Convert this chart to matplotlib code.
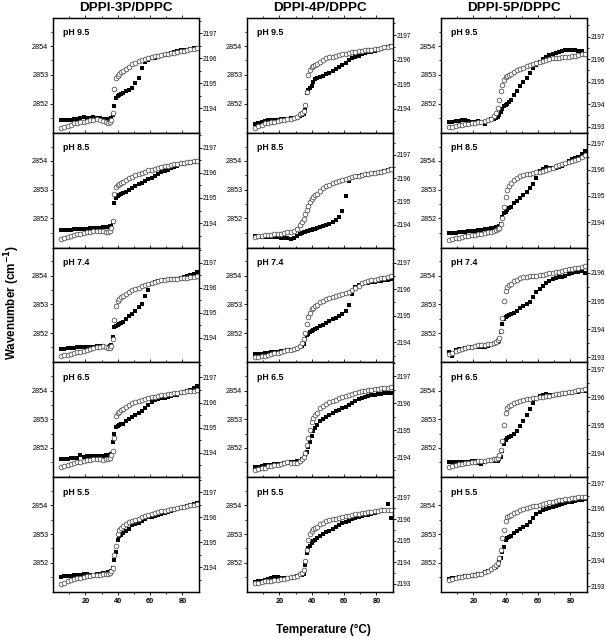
import matplotlib
matplotlib.use("Agg")
import matplotlib.pyplot as plt
from matplotlib.ticker import FixedLocator, MultipleLocator, NullFormatter

plt.rcParams['font.family'] = ['Liberation Sans', 'DejaVu Sans']

# temperature grid (deg C), shared by every panel
temp = [5, 7, 9, 11, 13, 15, 17, 19, 21, 23, 25, 27, 29, 31,
        33, 34, 35, 36, 37, 38, 39, 40, 41, 42, 43,
        45, 47, 49, 51, 53, 55, 57, 59, 61, 63, 65, 67, 69, 71, 73, 75, 77, 79, 81, 83, 85, 87, 89]

systems = ["DPPI-3P/DPPC", "DPPI-4P/DPPC", "DPPI-5P/DPPC"]
ph_labels = ["pH 9.5", "pH 8.5", "pH 7.4", "pH 6.5", "pH 5.5"]

# ---- DPPI-3P ----  sq = CH2 (left axis), ci = right axis
sq_3p_95 = [2851.42, 2851.43, 2851.44, 2851.44, 2851.45, 2851.47, 2851.5, 2851.52, 2851.5, 2851.5, 2851.52, 2851.5, 2851.48, 2851.47,
            2851.45, 2851.45, 2851.47, 2851.5, 2851.6, 2851.9, 2852.2, 2852.25, 2852.3, 2852.33, 2852.37,
            2852.42, 2852.48, 2852.55, 2852.7, 2852.88, 2853.25, 2853.45, 2853.53, 2853.57, 2853.6, 2853.63, 2853.66, 2853.7, 2853.73, 2853.77, 2853.8, 2853.82, 2853.85, 2853.87, 2853.88, 2853.9, 2853.92, 2853.95]
ci_3p_95 = [2193.2, 2193.25, 2193.3, 2193.35, 2193.4, 2193.42, 2193.45, 2193.47, 2193.5, 2193.52, 2193.55, 2193.57, 2193.55, 2193.5,
            2193.45, 2193.43, 2193.47, 2193.55, 2193.8, 2194.75, 2195.2, 2195.3, 2195.38, 2195.43, 2195.48,
            2195.57, 2195.65, 2195.75, 2195.82, 2195.88, 2195.93, 2195.98, 2196.02, 2196.05, 2196.08, 2196.1, 2196.13, 2196.15, 2196.18, 2196.2, 2196.22, 2196.25, 2196.27, 2196.3, 2196.32, 2196.35, 2196.37, 2196.4]
sq_3p_85 = [2851.6, 2851.6, 2851.6, 2851.61, 2851.62, 2851.62, 2851.63, 2851.63, 2851.64, 2851.65, 2851.66, 2851.67, 2851.68, 2851.69,
            2851.7, 2851.71, 2851.72, 2851.75, 2851.86, 2852.54, 2852.7, 2852.78, 2852.82, 2852.85, 2852.88,
            2852.92, 2852.98, 2853.05, 2853.12, 2853.18, 2853.24, 2853.3, 2853.36, 2853.42, 2853.48, 2853.54, 2853.6, 2853.65, 2853.7, 2853.74, 2853.78, 2853.83, 2853.88, 2853.91, 2853.93, 2853.94, 2853.95, 2853.97]
ci_3p_85 = [2193.38, 2193.42, 2193.46, 2193.5, 2193.53, 2193.56, 2193.58, 2193.61, 2193.63, 2193.66, 2193.68, 2193.7, 2193.7, 2193.67,
            2193.65, 2193.66, 2193.7, 2193.82, 2194.1, 2195.15, 2195.42, 2195.5, 2195.56, 2195.6, 2195.64,
            2195.72, 2195.78, 2195.85, 2195.9, 2195.96, 2196.01, 2196.05, 2196.1, 2196.13, 2196.17, 2196.2, 2196.23, 2196.26, 2196.29, 2196.31, 2196.34, 2196.36, 2196.38, 2196.4, 2196.43, 2196.45, 2196.47, 2196.49]
sq_3p_74 = [2851.45, 2851.46, 2851.47, 2851.48, 2851.49, 2851.5, 2851.5, 2851.51, 2851.52, 2851.52, 2851.53, 2851.54, 2851.54, 2851.54,
            2851.53, 2851.53, 2851.55, 2851.6, 2851.86, 2852.2, 2852.25, 2852.29, 2852.32, 2852.36, 2852.4,
            2852.5, 2852.58, 2852.68, 2852.78, 2852.9, 2853.03, 2853.3, 2853.5, 2853.7, 2853.78, 2853.81, 2853.83, 2853.85, 2853.86, 2853.88, 2853.89, 2853.9, 2853.92, 2853.95, 2853.98, 2854.02, 2854.07, 2854.14]
ci_3p_74 = [2193.26, 2193.3, 2193.33, 2193.36, 2193.39, 2193.42, 2193.45, 2193.48, 2193.52, 2193.55, 2193.59, 2193.62, 2193.65, 2193.68,
            2193.63, 2193.58, 2193.6, 2193.68, 2193.95, 2194.7, 2195.26, 2195.46, 2195.55, 2195.62, 2195.67,
            2195.76, 2195.83, 2195.9, 2195.95, 2196.0, 2196.05, 2196.1, 2196.16, 2196.2, 2196.23, 2196.26, 2196.29, 2196.31, 2196.33, 2196.34, 2196.35, 2196.36, 2196.37, 2196.38, 2196.4, 2196.42, 2196.44, 2196.45]
sq_3p_65 = [2851.62, 2851.62, 2851.63, 2851.64, 2851.65, 2851.66, 2851.75, 2851.7, 2851.71, 2851.71, 2851.72, 2851.72, 2851.72, 2851.73,
            2851.74, 2851.75, 2851.76, 2851.8, 2852.2, 2852.5, 2852.72, 2852.77, 2852.8, 2852.82, 2852.85,
            2852.94, 2853.0, 2853.07, 2853.14, 2853.21, 2853.29, 2853.38, 2853.5, 2853.6, 2853.68, 2853.71, 2853.73, 2853.75, 2853.77, 2853.8, 2853.83, 2853.86, 2853.9, 2853.94, 2853.98, 2854.03, 2854.08, 2854.15]
ci_3p_65 = [2193.41, 2193.45, 2193.49, 2193.53, 2193.57, 2193.61, 2193.64, 2193.67, 2193.7, 2193.72, 2193.74, 2193.75, 2193.74, 2193.72,
            2193.73, 2193.76, 2193.8, 2193.9, 2194.07, 2194.6, 2195.45, 2195.59, 2195.64, 2195.69, 2195.73,
            2195.83, 2195.9, 2195.97, 2196.02, 2196.07, 2196.11, 2196.14, 2196.17, 2196.2, 2196.23, 2196.26, 2196.29, 2196.31, 2196.33, 2196.35, 2196.37, 2196.39, 2196.4, 2196.42, 2196.44, 2196.45, 2196.47, 2196.48]
sq_3p_55 = [2851.51, 2851.53, 2851.55, 2851.55, 2851.56, 2851.56, 2851.58, 2851.6, 2851.6, 2851.58, 2851.55, 2851.6, 2851.62, 2851.63,
            2851.65, 2851.66, 2851.68, 2851.72, 2851.8, 2852.09, 2852.39, 2852.8, 2852.92, 2852.98, 2853.04,
            2853.1, 2853.18, 2853.3, 2853.35, 2853.4, 2853.45, 2853.52, 2853.58, 2853.61, 2853.64, 2853.67, 2853.7, 2853.73, 2853.76, 2853.8, 2853.83, 2853.86, 2853.9, 2853.93, 2853.96, 2854.0, 2854.04, 2854.07]
ci_3p_55 = [2193.34, 2193.39, 2193.44, 2193.49, 2193.52, 2193.56, 2193.59, 2193.62, 2193.64, 2193.66, 2193.68, 2193.69, 2193.7, 2193.72,
            2193.74, 2193.75, 2193.78, 2193.85, 2193.98, 2194.49, 2194.85, 2195.32, 2195.48, 2195.58, 2195.66,
            2195.75, 2195.8, 2195.87, 2195.91, 2195.95, 2196.0, 2196.05, 2196.1, 2196.14, 2196.17, 2196.21, 2196.24, 2196.27, 2196.3, 2196.32, 2196.35, 2196.38, 2196.41, 2196.43, 2196.46, 2196.49, 2196.51, 2196.53]

# ---- DPPI-4P ----
sq_4p_95 = [2851.27, 2851.32, 2851.36, 2851.39, 2851.41, 2851.42, 2851.43, 2851.44, 2851.45, 2851.46, 2851.47, 2851.48, 2851.49, 2851.51,
            2851.57, 2851.6, 2851.65, 2851.77, 2852.38, 2852.47, 2852.55, 2852.62, 2852.75, 2852.85, 2852.88,
            2852.93, 2852.97, 2853.03, 2853.07, 2853.13, 2853.2, 2853.26, 2853.33, 2853.4, 2853.5, 2853.58, 2853.63, 2853.67, 2853.71, 2853.75, 2853.78, 2853.81, 2853.84, 2853.87, 2853.9, 2853.93, 2853.96, 2854.0]
ci_4p_95 = [2193.22, 2193.29, 2193.35, 2193.4, 2193.43, 2193.46, 2193.48, 2193.5, 2193.53, 2193.55, 2193.57, 2193.59, 2193.62, 2193.66,
            2193.77, 2193.83, 2193.9, 2194.14, 2194.7, 2195.39, 2195.56, 2195.69, 2195.74, 2195.78, 2195.82,
            2195.9, 2195.97, 2196.05, 2196.09, 2196.13, 2196.16, 2196.2, 2196.23, 2196.25, 2196.28, 2196.3, 2196.33, 2196.35, 2196.37, 2196.38, 2196.4, 2196.41, 2196.42, 2196.44, 2196.47, 2196.5, 2196.53, 2196.56]
sq_4p_85 = [2851.37, 2851.37, 2851.36, 2851.36, 2851.35, 2851.35, 2851.34, 2851.34, 2851.33, 2851.32, 2851.3, 2851.28, 2851.3, 2851.4,
            2851.47, 2851.49, 2851.51, 2851.53, 2851.55, 2851.56, 2851.58, 2851.6, 2851.62, 2851.64, 2851.65,
            2851.69, 2851.72, 2851.76, 2851.8, 2851.86, 2851.95, 2852.06, 2852.25, 2852.79, 2853.31, 2853.4, 2853.45, 2853.48, 2853.5, 2853.52, 2853.54, 2853.55, 2853.57, 2853.59, 2853.62, 2853.65, 2853.68, 2853.72]
ci_4p_85 = [2193.49, 2193.51, 2193.53, 2193.55, 2193.56, 2193.57, 2193.59, 2193.6, 2193.62, 2193.65, 2193.68, 2193.71, 2193.75, 2193.8,
            2193.98, 2194.1, 2194.26, 2194.45, 2194.62, 2194.8, 2194.98, 2195.1, 2195.2, 2195.27, 2195.34,
            2195.45, 2195.58, 2195.66, 2195.72, 2195.79, 2195.85, 2195.89, 2195.93, 2195.97, 2196.01, 2196.05, 2196.08, 2196.11, 2196.14, 2196.17, 2196.19, 2196.21, 2196.23, 2196.25, 2196.28, 2196.31, 2196.34, 2196.38]
sq_4p_74 = [2851.27, 2851.28, 2851.29, 2851.3, 2851.32, 2851.33, 2851.34, 2851.35, 2851.37, 2851.38, 2851.4, 2851.41, 2851.42, 2851.45,
            2851.51, 2851.56, 2851.63, 2851.8, 2851.92, 2851.98, 2852.04, 2852.09, 2852.12, 2852.15, 2852.19,
            2852.25, 2852.3, 2852.36, 2852.42, 2852.48, 2852.54, 2852.61, 2852.68, 2852.77, 2852.98, 2853.35, 2853.6, 2853.69, 2853.72, 2853.74, 2853.76, 2853.77, 2853.78, 2853.8, 2853.82, 2853.84, 2853.86, 2853.88]
ci_4p_74 = [2193.44, 2193.46, 2193.48, 2193.5, 2193.54, 2193.57, 2193.6, 2193.62, 2193.64, 2193.67, 2193.7, 2193.73, 2193.76, 2193.8,
            2193.88, 2193.98, 2194.13, 2194.37, 2194.68, 2194.97, 2195.12, 2195.24, 2195.3, 2195.36, 2195.41,
            2195.51, 2195.56, 2195.62, 2195.66, 2195.7, 2195.74, 2195.78, 2195.82, 2195.86, 2195.9, 2195.95, 2196.04, 2196.13, 2196.22, 2196.28, 2196.31, 2196.33, 2196.35, 2196.37, 2196.4, 2196.43, 2196.47, 2196.5]
sq_4p_65 = [2851.33, 2851.35, 2851.38, 2851.4, 2851.41, 2851.42, 2851.43, 2851.44, 2851.45, 2851.47, 2851.49, 2851.5, 2851.52, 2851.54,
            2851.56, 2851.6, 2851.66, 2851.74, 2851.86, 2852.02, 2852.22, 2852.43, 2852.58, 2852.71, 2852.8,
            2852.94, 2853.02, 2853.08, 2853.14, 2853.21, 2853.29, 2853.33, 2853.38, 2853.43, 2853.5, 2853.57, 2853.63, 2853.7, 2853.73, 2853.77, 2853.8, 2853.83, 2853.85, 2853.87, 2853.88, 2853.9, 2853.91, 2853.92]
ci_4p_65 = [2193.53, 2193.56, 2193.58, 2193.61, 2193.65, 2193.68, 2193.7, 2193.72, 2193.74, 2193.77, 2193.8, 2193.78, 2193.76, 2193.76,
            2193.84, 2193.92, 2194.0, 2194.15, 2194.46, 2194.71, 2195.02, 2195.29, 2195.44, 2195.57, 2195.65,
            2195.82, 2195.9, 2195.98, 2196.03, 2196.08, 2196.13, 2196.18, 2196.24, 2196.28, 2196.32, 2196.36, 2196.39, 2196.42, 2196.45, 2196.47, 2196.49, 2196.51, 2196.53, 2196.54, 2196.56, 2196.57, 2196.58, 2196.59]
sq_4p_55 = [2851.33, 2851.35, 2851.38, 2851.41, 2851.44, 2851.47, 2851.5, 2851.49, 2851.47, 2851.46, 2851.45, 2851.48, 2851.5, 2851.53,
            2851.56, 2851.58, 2851.62, 2851.92, 2852.33, 2852.51, 2852.6, 2852.68, 2852.74, 2852.8, 2852.85,
            2852.92, 2852.99, 2853.06, 2853.12, 2853.19, 2853.25, 2853.31, 2853.38, 2853.43, 2853.47, 2853.51, 2853.55, 2853.58, 2853.62, 2853.65, 2853.68, 2853.7, 2853.73, 2853.76, 2853.8, 2853.82, 2854.05, 2853.55]
ci_4p_55 = [2193.03, 2193.06, 2193.09, 2193.12, 2193.14, 2193.16, 2193.18, 2193.2, 2193.22, 2193.24, 2193.27, 2193.3, 2193.32, 2193.37,
            2193.46, 2193.52, 2193.65, 2194.04, 2194.59, 2195.05, 2195.29, 2195.44, 2195.53, 2195.6, 2195.65,
            2195.75, 2195.82, 2195.89, 2195.94, 2195.98, 2196.02, 2196.06, 2196.1, 2196.13, 2196.16, 2196.19, 2196.22, 2196.24, 2196.27, 2196.29, 2196.32, 2196.34, 2196.37, 2196.38, 2196.4, 2196.41, 2196.42, 2196.42]

# ---- DPPI-5P ----
sq_5p_95 = [2851.36, 2851.37, 2851.38, 2851.4, 2851.42, 2851.42, 2851.38, 2851.35, 2851.36, 2851.38, 2851.37, 2851.3, 2851.4, 2851.45,
            2851.45, 2851.48, 2851.52, 2851.6, 2851.7, 2851.8, 2851.92, 2851.96, 2852.0, 2852.05, 2852.12,
            2852.29, 2852.45, 2852.6, 2852.74, 2852.88, 2853.08, 2853.23, 2853.35, 2853.45, 2853.55, 2853.63, 2853.68, 2853.72, 2853.76, 2853.8, 2853.83, 2853.86, 2853.88, 2853.85, 2853.87, 2853.84, 2853.82, 2853.74]
ci_5p_95 = [2192.97, 2193.0, 2193.02, 2193.05, 2193.08, 2193.1, 2193.12, 2193.14, 2193.16, 2193.18, 2193.2, 2193.23, 2193.27, 2193.33,
            2193.45, 2193.59, 2193.81, 2194.19, 2194.6, 2194.85, 2195.07, 2195.19, 2195.25, 2195.3, 2195.35,
            2195.44, 2195.5, 2195.57, 2195.62, 2195.68, 2195.74, 2195.78, 2195.82, 2195.86, 2195.9, 2195.96, 2196.0, 2196.03, 2196.05, 2196.07, 2196.09, 2196.1, 2196.11, 2196.13, 2196.16, 2196.19, 2196.21, 2196.23]
sq_5p_85 = [2851.48, 2851.49, 2851.5, 2851.51, 2851.53, 2851.54, 2851.55, 2851.56, 2851.57, 2851.59, 2851.6, 2851.62, 2851.64, 2851.66,
            2851.68, 2851.69, 2851.71, 2851.74, 2851.79, 2852.06, 2852.17, 2852.23, 2852.29, 2852.35, 2852.4,
            2852.52, 2852.61, 2852.71, 2852.81, 2852.93, 2853.05, 2853.2, 2853.42, 2853.65, 2853.73, 2853.78, 2853.77, 2853.75, 2853.75, 2853.78, 2853.82, 2853.9, 2854.0, 2854.05, 2854.09, 2854.15, 2854.24, 2854.35]
ci_5p_85 = [2193.33, 2193.35, 2193.37, 2193.4, 2193.42, 2193.45, 2193.47, 2193.5, 2193.52, 2193.54, 2193.56, 2193.58, 2193.6, 2193.63,
            2193.66, 2193.68, 2193.72, 2193.78, 2193.93, 2194.15, 2194.57, 2194.96, 2195.21, 2195.4, 2195.49,
            2195.61, 2195.69, 2195.76, 2195.8, 2195.83, 2195.85, 2195.87, 2195.9, 2195.92, 2195.95, 2195.98, 2196.02, 2196.07, 2196.13, 2196.18, 2196.23, 2196.26, 2196.29, 2196.33, 2196.38, 2196.43, 2196.49, 2196.55]
sq_5p_74 = [2851.33, 2851.2, 2851.4, 2851.43, 2851.45, 2851.47, 2851.49, 2851.5, 2851.51, 2851.52, 2851.5, 2851.53, 2851.56, 2851.58,
            2851.63, 2851.65, 2851.68, 2851.74, 2852.04, 2852.33, 2852.5, 2852.56, 2852.59, 2852.62, 2852.65,
            2852.7, 2852.78, 2852.87, 2852.95, 2853.02, 2853.09, 2853.26, 2853.42, 2853.55, 2853.65, 2853.73, 2853.8, 2853.87, 2853.91, 2853.94, 2853.96, 2854.0, 2854.05, 2854.09, 2854.12, 2854.14, 2854.17, 2854.1]
ci_5p_74 = [2193.12, 2193.17, 2193.22, 2193.26, 2193.3, 2193.33, 2193.36, 2193.38, 2193.41, 2193.43, 2193.44, 2193.45, 2193.46, 2193.48,
            2193.51, 2193.55, 2193.6, 2193.69, 2193.93, 2194.4, 2195.01, 2195.37, 2195.49, 2195.56, 2195.61,
            2195.7, 2195.76, 2195.81, 2195.85, 2195.87, 2195.88, 2195.89, 2195.9, 2195.91, 2195.93, 2195.96, 2195.98, 2196.0, 2196.03, 2196.05, 2196.07, 2196.1, 2196.13, 2196.15, 2196.17, 2196.19, 2196.21, 2196.23]
sq_5p_65 = [2851.5, 2851.5, 2851.5, 2851.51, 2851.51, 2851.52, 2851.52, 2851.53, 2851.53, 2851.48, 2851.44, 2851.52, 2851.53, 2851.54,
            2851.55, 2851.55, 2851.56, 2851.6, 2851.67, 2851.91, 2852.14, 2852.28, 2852.33, 2852.37, 2852.41,
            2852.49, 2852.6, 2852.75, 2852.93, 2853.13, 2853.36, 2853.56, 2853.72, 2853.8, 2853.85, 2853.88, 2853.86, 2853.84, 2853.84, 2853.86, 2853.88, 2853.89, 2853.9, 2853.92, 2853.94, 2853.95, 2853.97, 2853.98]
ci_5p_65 = [2193.52, 2193.55, 2193.58, 2193.61, 2193.63, 2193.65, 2193.67, 2193.69, 2193.7, 2193.72, 2193.73, 2193.74, 2193.75, 2193.77,
            2193.79, 2193.8, 2193.82, 2193.94, 2194.12, 2194.44, 2195.02, 2195.44, 2195.62, 2195.7, 2195.74,
            2195.8, 2195.85, 2195.88, 2195.91, 2195.94, 2195.96, 2195.97, 2195.98, 2196.0, 2196.02, 2196.04, 2196.06, 2196.09, 2196.11, 2196.13, 2196.15, 2196.17, 2196.19, 2196.21, 2196.24, 2196.26, 2196.28, 2196.3]
sq_5p_55 = [2851.45, 2851.46, 2851.48, 2851.5, 2851.52, 2851.53, 2851.54, 2851.55, 2851.57, 2851.59, 2851.62, 2851.66, 2851.7, 2851.74,
            2851.8, 2851.85, 2851.92, 2852.02, 2852.15, 2852.39, 2852.56, 2852.78, 2852.86, 2852.9, 2852.92,
            2853.04, 2853.1, 2853.18, 2853.24, 2853.3, 2853.41, 2853.57, 2853.7, 2853.78, 2853.82, 2853.86, 2853.9, 2853.94, 2853.96, 2854.0, 2854.04, 2854.07, 2854.1, 2854.13, 2854.15, 2854.17, 2854.19, 2854.21]
ci_5p_55 = [2193.24, 2193.28, 2193.32, 2193.35, 2193.37, 2193.39, 2193.41, 2193.42, 2193.44, 2193.45, 2193.47, 2193.53, 2193.6, 2193.66,
            2193.76, 2193.82, 2193.89, 2194.08, 2194.41, 2194.87, 2195.19, 2195.52, 2195.69, 2195.74, 2195.78,
            2195.84, 2195.89, 2195.95, 2195.99, 2196.04, 2196.08, 2196.11, 2196.13, 2196.15, 2196.18, 2196.21, 2196.25, 2196.28, 2196.31, 2196.33, 2196.35, 2196.37, 2196.39, 2196.41, 2196.43, 2196.45, 2196.46, 2196.47]

squares = [[sq_3p_95, sq_3p_85, sq_3p_74, sq_3p_65, sq_3p_55],
           [sq_4p_95, sq_4p_85, sq_4p_74, sq_4p_65, sq_4p_55],
           [sq_5p_95, sq_5p_85, sq_5p_74, sq_5p_65, sq_5p_55]]
circles = [[ci_3p_95, ci_3p_85, ci_3p_74, ci_3p_65, ci_3p_55],
           [ci_4p_95, ci_4p_85, ci_4p_74, ci_4p_65, ci_4p_55],
           [ci_5p_95, ci_5p_85, ci_5p_74, ci_5p_65, ci_5p_55]]

# right axis range per panel (column, row)
right_lims = [[(2193.02, 2197.6)] * 5,
              [(2193.02, 2197.7), (2193.02, 2197.95), (2193.25, 2197.56), (2193.25, 2197.52), (2192.63, 2197.93)],
              [(2192.72, 2197.83), (2193.02, 2197.42), (2192.82, 2196.9), (2193.15, 2197.25), (2192.77, 2197.23)]]

W, H = 606, 638
fig = plt.figure(figsize=(W / 100, H / 100), dpi=100)

col_left = [53, 247, 441]
pw = 145.5
top0 = 18
ph = 114.8

for c in range(3):
    for r in range(5):
        y_top = top0 + r * ph
        ax = fig.add_axes([col_left[c] / W, 1 - (y_top + ph) / H, pw / W, ph / H])
        ax.plot(temp, squares[c][r], ls='none', marker='s', ms=3.1, color='black', mew=0)
        ax.set_xlim(0, 90)
        ax.set_ylim(2850.98, 2854.98)
        ax.yaxis.set_major_locator(FixedLocator([2852, 2853, 2854]))
        ax.yaxis.set_minor_locator(FixedLocator([2851.5, 2852.5, 2853.5, 2854.5]))
        ax.xaxis.set_major_locator(FixedLocator([20, 40, 60, 80]))
        ax.xaxis.set_minor_locator(FixedLocator([10, 30, 50, 70]))
        ax.tick_params(axis='both', which='both', direction='out', width=0.6, top=True)
        ax.tick_params(which='major', length=2.5)
        ax.tick_params(which='minor', length=1.5)
        ax.tick_params(axis='y', labelsize=5.2, pad=0.8)
        ax.tick_params(axis='x', labelsize=5.3, pad=1.5)
        for lab in ax.get_xticklabels():
            lab.set_fontweight('bold')
        if r < 4:
            ax.xaxis.set_major_formatter(NullFormatter())

        ax2 = ax.twinx()
        ax2.plot(temp, circles[c][r], ls='none', marker='o', ms=3.4, mfc='white',
                 mec='#3a3a3a', mew=0.5)
        ax2.set_ylim(*right_lims[c][r])
        ax2.yaxis.set_major_locator(MultipleLocator(1))
        ax2.yaxis.set_minor_locator(MultipleLocator(0.5))
        ax2.tick_params(axis='y', which='both', direction='out', width=0.6, labelsize=4.7, pad=0.6)
        ax2.tick_params(which='major', length=2.2)
        ax2.tick_params(which='minor', length=1.4)
        for a in (ax, ax2):
            for s in a.spines.values():
                s.set_linewidth(0.9)

        ax.text(0.068, 0.87, ph_labels[r], transform=ax.transAxes, fontsize=6.3,
                fontweight='bold', va='center', ha='left')

    fig.text((col_left[c] + pw / 2) / W, 1 - 8 / H, systems[c], ha='center', va='center',
             fontsize=9.7, fontweight='bold')

fig.text(12 / W, 1 - 302 / H, 'Wavenumber (cm$^{\\mathbf{-1}}$)', rotation=90, ha='center',
         va='center', fontsize=8.4, fontweight='bold')
fig.text(323 / W, 1 - 630 / H, 'Temperature (\u00b0C)', ha='center', va='center',
         fontsize=8.5, fontweight='bold')

fig.savefig('out.png', dpi=100)
